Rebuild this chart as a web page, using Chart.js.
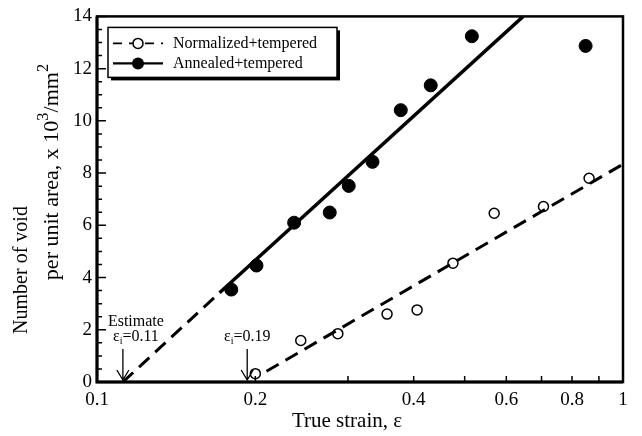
<!DOCTYPE html>
<html>
<head>
<meta charset="utf-8">
<script src="https://cdn.jsdelivr.net/npm/chart.js@4/dist/chart.umd.min.js"></script>
<style>
  html, body { margin: 0; padding: 0; background: #fff; }
  #wrap { width: 642px; height: 436px; }
</style>
</head>
<body>
<div id="wrap"><canvas id="voidChart" width="642" height="436"></canvas></div>
<script>
// measured points
const normStrain = [0.200, 0.244, 0.287, 0.356, 0.406, 0.475, 0.569, 0.706, 0.862];
const normVoids = [0.32, 1.59, 1.85, 2.60, 2.76, 4.55, 6.46, 6.72, 7.80];
const annStrain = [0.180, 0.201, 0.237, 0.277, 0.301, 0.334, 0.378, 0.431, 0.516, 0.849];
const annVoids = [3.54, 4.46, 6.10, 6.49, 7.51, 8.43, 10.41, 11.36, 13.24, 12.87];

// fit lines (end points)
const normFitStrain = [0.210, 1.0];
const normFitVoids = [0.41, 8.34];
const annFitStrain = [0.112, 0.171, 0.646];
const annFitVoids = [0, 3.42, 14];

// onset strains marked with arrows
const onsetStrain = [0.112, 0.193];
const onsetText = ["=0.11", "=0.19"];

const xTickValues = [0.1, 0.2, 0.4, 0.6, 0.8, 1];
const xMinorTicks = [0.2, 0.3, 0.4, 0.5, 0.6, 0.7, 0.8, 0.9];

const SERIF = "'Liberation Serif', 'Times New Roman', serif";

const toPoints = (xs, ys) => xs.map((x, i) => ({ x: x, y: ys[i] }));

const dashPattern = [14, 8];

function drawSupText(ctx, parts, x, y, size) {
  // parts: [text, isSup], drawn centred on x
  const supSize = size * 0.75;
  let w = 0;
  parts.forEach(p => {
    ctx.font = (p[1] ? supSize : size) + "px " + SERIF;
    w += ctx.measureText(p[0]).width;
  });
  let cx = x - w / 2;
  parts.forEach(p => {
    ctx.font = (p[1] ? supSize : size) + "px " + SERIF;
    ctx.fillText(p[0], cx, p[1] ? y - size * 0.4 : y);
    cx += ctx.measureText(p[0]).width;
  });
}

function drawEpsI(ctx, rest, cx, y) {
  ctx.font = "16px " + SERIF;
  const wE = ctx.measureText("\u03b5").width;
  ctx.font = "10px " + SERIF;
  const wI = ctx.measureText("i").width;
  ctx.font = "16px " + SERIF;
  const wR = ctx.measureText(rest).width;
  let x = cx - (wE + wI + wR) / 2;
  ctx.fillText("\u03b5", x, y);
  x += wE;
  ctx.font = "10px " + SERIF;
  ctx.fillText("i", x, y + 4);
  x += wI;
  ctx.font = "16px " + SERIF;
  ctx.fillText(rest, x, y);
}

const figurePlugin = {
  id: "figure",
  beforeDatasetsDraw(chart) {
    const { ctx, chartArea: a, scales } = chart;
    ctx.save();
    ctx.strokeStyle = "#000";
    ctx.lineWidth = 2.5;
    ctx.strokeRect(a.left, a.top, a.right - a.left, a.bottom - a.top);
    // left and bottom edges are heavier in the original
    ctx.lineWidth = 3;
    ctx.beginPath();
    ctx.moveTo(a.left, a.top);
    ctx.lineTo(a.left, a.bottom);
    ctx.lineTo(a.right, a.bottom);
    ctx.stroke();

    // inward ticks
    ctx.lineWidth = 1.5;
    ctx.beginPath();
    for (let v = 0; v <= 14; v += 0.5) {
      const py = scales.y.getPixelForValue(v);
      const len = v % 2 === 0 ? 9 : 5;
      ctx.moveTo(a.left, py);
      ctx.lineTo(a.left + len, py);
    }
    xMinorTicks.forEach(v => {
      const px = scales.x.getPixelForValue(v);
      ctx.moveTo(px, a.bottom);
      ctx.lineTo(px, a.bottom - 6);
    });
    ctx.stroke();
    ctx.restore();
  },
  afterDraw(chart) {
    const { ctx, chartArea: a, scales } = chart;
    ctx.save();
    ctx.fillStyle = "#000";
    ctx.strokeStyle = "#000";
    ctx.textBaseline = "middle";

    // legend box with drop shadow
    const bx = a.left + 11, by = a.top + 11, bw = 229, bh = 50;
    ctx.fillRect(bx + 3, by + 3, bw, bh);
    ctx.fillStyle = "#fff";
    ctx.fillRect(bx, by, bw, bh);
    ctx.lineWidth = 1.5;
    ctx.strokeRect(bx, by, bw, bh);
    ctx.fillStyle = "#000";

    const items = [
      { text: chart.data.datasets[0].label, dash: [9, 7], open: true, y: by + 16 },
      { text: chart.data.datasets[1].label, dash: [], open: false, y: by + 36 }
    ];
    items.forEach(it => {
      ctx.save();
      ctx.lineWidth = it.open ? 1.8 : 2.2;
      ctx.setLineDash(it.dash);
      ctx.beginPath();
      ctx.moveTo(bx + 5, it.y);
      ctx.lineTo(bx + 55, it.y);
      ctx.stroke();
      ctx.restore();
      ctx.beginPath();
      if (it.open) {
        ctx.fillStyle = "#fff";
        ctx.arc(bx + 30, it.y, 5, 0, Math.PI * 2);
        ctx.fill();
        ctx.lineWidth = 1.5;
        ctx.stroke();
        ctx.fillStyle = "#000";
      } else {
        ctx.arc(bx + 30, it.y, 6, 0, Math.PI * 2);
        ctx.fill();
      }
      ctx.font = "16px " + SERIF;
      ctx.textAlign = "left";
      ctx.fillText(it.text, bx + 65, it.y);
    });

    // onset arrows and labels
    const textShift = [13, 0];
    onsetStrain.forEach((s, i) => {
      const px = scales.x.getPixelForValue(s);
      const tip = a.bottom - 2;
      ctx.lineWidth = 1.3;
      ctx.beginPath();
      ctx.moveTo(px, a.bottom - 33);
      ctx.lineTo(px, tip);
      ctx.moveTo(px - 6, tip - 10);
      ctx.lineTo(px, tip);
      ctx.lineTo(px + 6, tip - 10);
      ctx.stroke();
      ctx.textAlign = "left";
      drawEpsI(ctx, onsetText[i], px + textShift[i], a.bottom - 45);
      if (i === 0) {
        ctx.font = "16px " + SERIF;
        ctx.textAlign = "center";
        ctx.fillText("Estimate", px + textShift[i], a.bottom - 60);
      }
    });

    // axis titles
    ctx.textAlign = "center";
    ctx.font = "21px " + SERIF;
    ctx.fillText("True strain, \u03b5", 347, 421);

    ctx.save();
    ctx.translate(22, 270);
    ctx.rotate(-Math.PI / 2);
    ctx.textAlign = "left";
    drawSupText(ctx, [["Number of void", false]], 0, 0, 20);
    ctx.restore();

    ctx.save();
    ctx.translate(52, 172);
    ctx.rotate(-Math.PI / 2);
    ctx.textAlign = "left";
    drawSupText(ctx, [["per unit area, x 10", false], ["3", true], ["/mm", false], ["2", true]], 0, 0, 22);
    ctx.restore();

    ctx.restore();
  }
};

const tickFont = { family: SERIF, size: 19 };

new Chart(document.getElementById("voidChart"), {
  type: "scatter",
  data: {
    datasets: [
      {
        label: "Normalized+tempered",
        data: toPoints(normStrain, normVoids),
        pointRadius: 5,
        pointBorderWidth: 1.5,
        borderColor: "#000",
        backgroundColor: "rgba(0,0,0,0)"
      },
      {
        label: "Annealed+tempered",
        data: toPoints(annStrain, annVoids),
        pointRadius: 6.5,
        borderColor: "#000",
        backgroundColor: "#000"
      },
      {
        label: "Normalized fit",
        data: toPoints(normFitStrain, normFitVoids),
        showLine: true,
        pointRadius: 0,
        borderWidth: 3,
        borderDash: dashPattern,
        borderColor: "#000"
      },
      {
        label: "Annealed fit",
        data: toPoints(annFitStrain, annFitVoids),
        showLine: true,
        pointRadius: 0,
        borderWidth: 3.5,
        borderColor: "#000",
        segment: {
          borderDash: c => (c.p0DataIndex === 0 ? dashPattern : undefined),
          borderWidth: c => (c.p0DataIndex === 0 ? 3 : undefined)
        }
      }
    ]
  },
  options: {
    responsive: false,
    animation: false,
    layout: { padding: { top: 16, right: 19, left: 0, bottom: 0 } },
    plugins: { legend: { display: false }, tooltip: { enabled: false } },
    scales: {
      x: {
        type: "logarithmic",
        min: 0.1,
        max: 1,
        afterFit: s => { s.height = 54; },
        afterBuildTicks: s => { s.ticks = xTickValues.map(v => ({ value: v })); },
        grid: { display: false, drawTicks: false },
        border: { display: false },
        ticks: {
          font: tickFont,
          color: "#000",
          padding: 7,
          maxRotation: 0,
          autoSkip: false,
          callback: v => String(v)
        }
      },
      y: {
        min: 0,
        max: 14,
        afterFit: s => { s.width = 97; },
        grid: { display: false, drawTicks: false },
        border: { display: false },
        ticks: { stepSize: 2, font: tickFont, color: "#000", padding: 5 }
      }
    }
  },
  plugins: [figurePlugin]
});
</script>
</body>
</html>
